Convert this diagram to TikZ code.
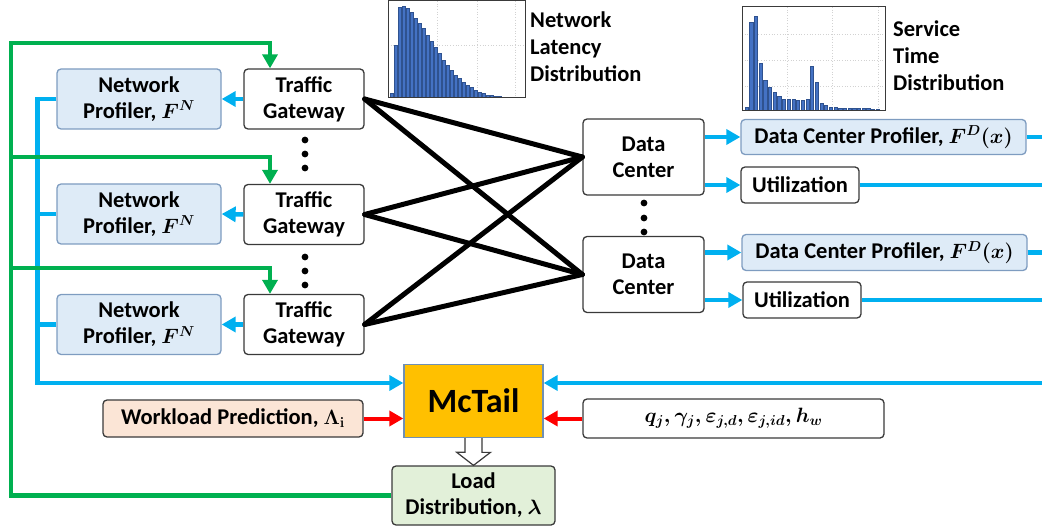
\documentclass[tikz,border=0pt]{standalone}
\usepackage{amsmath}
\usepackage{bm}
\usepackage[no-math]{fontspec}
\setmainfont{Carlito}
\usetikzlibrary{arrows.meta}
\definecolor{cblue}{HTML}{00B0F0}
\definecolor{cgreen}{HTML}{00B050}
\definecolor{cred}{HTML}{FF0000}
\definecolor{profFill}{HTML}{DEEBF7}
\definecolor{profDraw}{HTML}{7E9CC0}
\definecolor{mcFill}{HTML}{FFC000}
\definecolor{mcDraw}{HTML}{7090B4}
\definecolor{wpFill}{HTML}{FBE5D6}
\definecolor{ldFill}{HTML}{E2F0D9}
\definecolor{barFill}{HTML}{4472C4}
\definecolor{barDraw}{HTML}{2F528F}
\definecolor{boxDraw}{HTML}{3A3A3A}
\begin{document}
\begin{tikzpicture}[x=1pt,y=-1pt,
  every node/.style={font=\fontsize{22.5}{26}\selectfont\bfseries\boldmath, inner sep=0pt, align=center},
  box/.style={draw=boxDraw, line width=1.3pt, rounded corners=4pt, fill=white},
  prof/.style={box, draw=profDraw, fill=profFill},
  tip/.style={-{Triangle[length=14pt,width=15pt]}},
  bline/.style={draw=cblue, line width=4.5pt},
  barrow/.style={bline, tip},
  garrow/.style={draw=cgreen, line width=4.2pt, tip},
  gline/.style={draw=cgreen, line width=4.2pt},
  rarrow/.style={draw=cred, line width=4pt, tip},
  kline/.style={draw=black, line width=5pt, line cap=round},
  grid/.style={draw=gray!35, dotted, line width=0.7pt},
  bar/.style={fill=barFill, draw=barDraw, line width=0.4pt}
]
\useasboundingbox (0,0) rectangle (1042,529);

% ---- histograms ----
\draw[grid] (437,1) -- (437,98) (477,1) -- (477,98) (515,1) -- (515,98) (388,45) -- (525,45);
\foreach \h [count=\i from 0] in {4.3,52.7,90.3,91,89.3,85,79.3,74.3,69.3,62.7,56,50.3,44.3,37.7,32,27.7,22.7,19.3,15.3,12,10,7.7,5.3,4,2.7,2,1.3,1,0.7,0.3,0.3}
  \filldraw[bar] (390.2+4*\i,97.7) rectangle ++(3,-\h);
\draw[boxDraw, line width=1pt] (388,1) rectangle (525,98);

\draw[grid] (787,7) -- (787,110) (832,7) -- (832,110) (878,7) -- (878,110) (742,34) -- (885,34) (742,60) -- (885,60) (742,86) -- (885,86);
\foreach \h [count=\i from 0] in {2.7,87.3,93.3,46.7,30,22.7,17.3,13.3,11,10.7,10.7,10,9.3,11,43.3,27.3,6.7,5,3,2.7,2,1.7,1.3,1.3,1.3,1.3,1.3,1,0.3}
  \filldraw[bar] (745+4.67*\i,110) rectangle ++(3.3,-\h);
\draw[boxDraw, line width=1pt] (742,7) rectangle (885,110.5);

\node[anchor=west, align=left, font=\fontsize{22.5}{27}\selectfont\bfseries] (nld) at (530,47) {Network\\Latency\\Distribution};
\node[anchor=west, align=left, font=\fontsize{22.5}{27}\selectfont\bfseries] (std) at (893,56) {Service\\Time\\Distribution};

% ---- boxes ----
\node[prof, minimum width=164pt, minimum height=60pt] (np1) at (139,99) {Network\\Profiler, $F^{N}$};
\node[prof, minimum width=164pt, minimum height=60pt] (np2) at (139,214) {Network\\Profiler, $F^{N}$};
\node[prof, minimum width=164pt, minimum height=60pt] (np3) at (139,324.5) {Network\\Profiler, $F^{N}$};

\node[box, minimum width=120pt, minimum height=60pt] (tg1) at (304,99) {Traffic\\Gateway};
\node[box, minimum width=120pt, minimum height=60pt] (tg2) at (304,214.5) {Traffic\\Gateway};
\node[box, minimum width=120pt, minimum height=60pt] (tg3) at (304,324.5) {Traffic\\Gateway};

\node[box, minimum width=121pt, minimum height=76pt] (dc1) at (643.5,157) {Data\\Center};
\node[box, minimum width=121pt, minimum height=76pt] (dc2) at (643.5,274.5) {Data\\Center};

\node[prof, minimum width=285pt, minimum height=35pt] (dcp1) at (883.5,137) {Data Center Profiler, $F^{D}(x)$};
\node[prof, minimum width=285pt, minimum height=36pt] (dcp2) at (884.5,252.5) {Data Center Profiler, $F^{D}(x)$};
\node[box, minimum width=118pt, minimum height=36pt] (ut1) at (800,185) {Utilization};
\node[box, minimum width=118pt, minimum height=36pt] (ut2) at (802,300) {Utilization};

\node[draw=mcDraw, line width=1.3pt, fill=mcFill, minimum width=139pt, minimum height=73pt, font=\fontsize{34}{40}\selectfont\bfseries] (mc) at (473.5,401) {McTail};
\node[box, fill=wpFill, minimum width=260pt, minimum height=37pt] (wp) at (233,418.5) {Workload Prediction, $\Lambda_{\mathrm{i}}$};
\node[box, minimum width=301pt, minimum height=39pt] (qb) at (733.5,418.5) {$q_j, \gamma_j, \varepsilon_{j,d}, \varepsilon_{j,id}, h_w$};
\node[box, fill=ldFill, minimum width=163pt, minimum height=59pt] (ld) at (473.5,495.5) {Load\\Distribution, $\lambda$};

% ---- dots ----
\foreach \y in {140,154,168,257,271,285} \fill (305,\y) circle (3.4pt);
\foreach \y in {203,218,232} \fill (644,\y) circle (3.4pt);

% ---- black links ----
\foreach \g in {tg1,tg2,tg3} {
  \draw[kline] (\g.east) -- (dc1.west);
  \draw[kline] (\g.east) -- (dc2.west);
}

% ---- gateway -> profiler ----
\foreach \i in {1,2,3} \draw[barrow] (tg\i.west) -- (np\i.east);

% ---- blue bus on the left ----
\coordinate (bb) at (37.5,383);
\draw[barrow, line join=miter] (np1.west) -| (bb) -- (bb -| mc.west);
\draw[bline] (np2.west) -- (np2.west -| bb);
\draw[bline] (np3.west) -- (np3.west -| bb);

% ---- data center outputs ----
\draw[barrow] (dc1.east |- dcp1.west) -- (dcp1.west);
\draw[barrow] (dc1.east |- ut1.west) -- (ut1.west);
\draw[barrow] (dc2.east |- dcp2.west) -- (dcp2.west);
\draw[barrow] (dc2.east |- ut2.west) -- (ut2.west);
\coordinate (rb) at (1042,383);
\draw[bline] (dcp1.east) -- (dcp1.east -| rb);
\draw[bline] (dcp2.east) -- (dcp2.east -| rb);
\draw[bline] (ut1.east) -- (ut1.east -| rb);
\draw[bline] (ut2.east) -- (ut2.east -| rb);
\draw[barrow] (rb) -- (rb -| mc.east);

% ---- red inputs ----
\draw[rarrow] (wp.east) -- (wp.east -| mc.west);
\draw[rarrow] (qb.west) -- (qb.west -| mc.east);

% ---- hollow arrow ----
\draw[draw=boxDraw, fill=white, line width=1.2pt, line join=miter]
  ([xshift=-8.5pt]mc.south) -- ++(0,14) -- ++(-8.5,0) -- (ld.north) -- ++(17,-13) -- ++(-8.5,0) -- ([xshift=8.5pt]mc.south);

% ---- green feedback ----
\coordinate (gl) at (11,43);
\coordinate (g1) at (270,43);
\coordinate (g2) at (270,157);
\coordinate (g3) at (270,268);
\draw[garrow, line join=miter] (ld.west) -| (gl) -- (g1) -- (g1 |- tg1.north);
\draw[garrow, line join=miter] (g2 -| gl) -- (g2) -- (g2 |- tg2.north);
\draw[garrow, line join=miter] (g3 -| gl) -- (g3) -- (g3 |- tg3.north);
\end{tikzpicture}
\end{document}
